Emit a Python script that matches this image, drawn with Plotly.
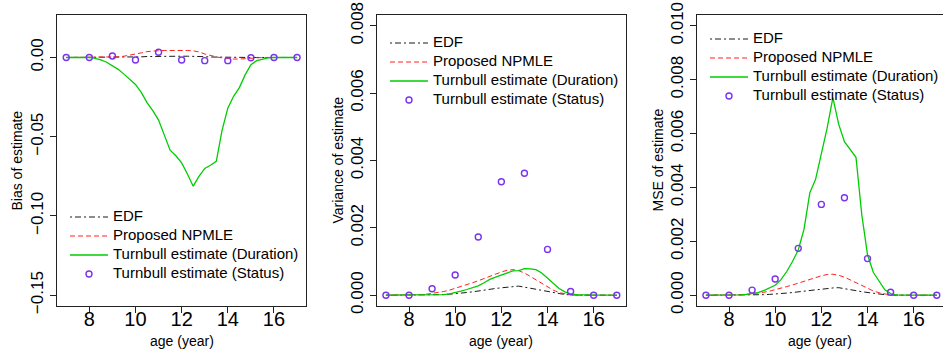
import plotly.graph_objects as go

# ---------------- data ----------------
age_grid = [7.00, 7.25, 7.50, 7.75, 8.00, 8.25, 8.50, 8.75, 9.00, 9.25, 9.50, 9.75,
            10.00, 10.25, 10.50, 10.75, 11.00, 11.25, 11.50, 11.75, 12.00, 12.25,
            12.50, 12.75, 13.00, 13.25, 13.50, 13.75, 14.00, 14.25, 14.50, 14.75,
            15.00, 15.25, 15.50, 15.75, 16.00, 16.25, 16.50, 16.75, 17.00]
age_int = [7, 8, 9, 10, 11, 12, 13, 14, 15, 16, 17]

# Bias
bias_edf = [0, 0, 0, 0, 0, 0, 0, 0, 0, 0.0001, 0.0001,
            0.0002, 0.0003, 0.0004, 0.0006, 0.0007, 0.0008, 0.0008, 0.0008, 0.0008, 0.0008,
            0.0008, 0.0008, 0.0007, 0.0005, 0.0003, 0.0002, 0.0001, 0, -0.0001, -0.0001, 0,
            0, 0, 0, 0, 0, 0, 0, 0, 0]
bias_npmle = [0, 0, 0, 0, 0, 0, 0, 0.0001,
              0.0002, 0.0004, 0.0008, 0.0014, 0.0020, 0.0029, 0.0037, 0.0041, 0.0043, 0.0044,
              0.0045, 0.0045, 0.0045, 0.0044, 0.0042, 0.0035, 0.0022, 0.0012, 0.0004, -0.0003,
              -0.0008, -0.0010, -0.0010, -0.0007, -0.0003, -0.0001, 0,
              0, 0, 0, 0, 0, 0]
bias_duration = [0, 0, 0, 0, 0, -0.0005, -0.0015, -0.003, -0.005, -0.0075, -0.0105, -0.0138,
                 -0.017, -0.022, -0.0285, -0.0335, -0.0395, -0.049, -0.0585, -0.062, -0.0665,
                 -0.0735, -0.0812, -0.075, -0.070, -0.068, -0.0655, -0.046, -0.032, -0.0245,
                 -0.019, -0.011, -0.0045, -0.002, -0.001, -0.0002, 0, 0, 0, 0, 0]
bias_status = [0, 0, 0.0009, -0.0016, 0.0033, -0.0016, -0.0020, -0.0020, -0.0002, 0, 0]

# Variance
var_edf = [0, 0, 0, 0, 0, 0, 0, 0,
           0.00001, 0.00001, 0.00002, 0.00003, 0.00004, 0.00006, 0.00008, 0.00010, 0.00013,
           0.00015, 0.00018, 0.00020, 0.00022, 0.00024, 0.00026, 0.00027, 0.00024, 0.00021,
           0.00017, 0.00013, 0.00010, 0.00007, 0.00004, 0.00002, 0.00001, 0, 0,
           0, 0, 0, 0, 0, 0]
var_npmle = [0, 0, 0, 0, 0,
             0.00001, 0.00002, 0.00003, 0.00005, 0.00008, 0.00011, 0.00015, 0.00020, 0.00025,
             0.00031, 0.00037, 0.00043, 0.00050, 0.00056, 0.00063, 0.00069, 0.00074, 0.00076,
             0.00073, 0.00066, 0.00056, 0.00046, 0.00035, 0.00024, 0.00015, 0.00008, 0.00004,
             0.00001, 0,
             0, 0, 0, 0, 0, 0, 0]
var_duration = [0, 0, 0, 0, 0, 0, 0, 0,
                0.00001, 0.00001, 0.00002, 0.00004, 0.00007, 0.00012, 0.00017, 0.00022, 0.00028,
                0.00037, 0.00047, 0.00054, 0.00060, 0.00067, 0.00072, 0.00073, 0.00079, 0.00078,
                0.00076, 0.00066, 0.00050, 0.00034, 0.00020, 0.00010, 0.00004, 0.00002, 0.00001,
                0, 0, 0, 0, 0, 0]
var_status = [0, 0, 0.00019, 0.00060, 0.00173, 0.00337, 0.00362, 0.00136, 0.00011, 0, 0]

# MSE
mse_edf = [0, 0, 0, 0, 0, 0, 0, 0,
           0.00001, 0.00001, 0.00002, 0.00003, 0.00004, 0.00006, 0.00008, 0.00010, 0.00013,
           0.00015, 0.00018, 0.00020, 0.00022, 0.00025, 0.00027, 0.00028, 0.00025, 0.00021,
           0.00017, 0.00013, 0.00010, 0.00007, 0.00004, 0.00002, 0.00001, 0, 0,
           0, 0, 0, 0, 0, 0]
mse_npmle = [0, 0, 0, 0, 0,
             0.00001, 0.00002, 0.00003, 0.00005, 0.00008, 0.00011, 0.00015, 0.00020, 0.00026,
             0.00032, 0.00038, 0.00045, 0.00052, 0.00059, 0.00066, 0.00072, 0.00077, 0.00078,
             0.00074, 0.00067, 0.00057, 0.00047, 0.00036, 0.00025, 0.00016, 0.00009, 0.00004,
             0.00001, 0,
             0, 0, 0, 0, 0, 0, 0]
mse_duration = [0, 0, 0, 0, 0, 0, 0.00001, 0.00003, 0.00006, 0.00010, 0.00017, 0.00026,
                0.00037, 0.00058, 0.00088, 0.00125, 0.00168, 0.00245, 0.00380, 0.00430, 0.00520,
                0.00620, 0.00733, 0.00635, 0.00570, 0.00540, 0.00512, 0.00300, 0.00150, 0.00085,
                0.00052, 0.00020, 0.00006, 0.00001, 0, 0, 0, 0, 0, 0, 0]
mse_status = [0, 0, 0.00019, 0.00060, 0.00174, 0.00337, 0.00362, 0.00136, 0.00011, 0, 0]

series_names = ["EDF", "Proposed NPMLE", "Turnbull estimate (Duration)", "Turnbull estimate (Status)"]
x_ticks = [8, 10, 12, 14, 16]
y1_ticks = [0.00, -0.05, -0.10, -0.15]
y1_text = ["0.00", "\u22120.05", "\u22120.10", "\u22120.15"]
y2_ticks = [0.000, 0.002, 0.004, 0.006, 0.008]
y2_text = ["0.000", "0.002", "0.004", "0.006", "0.008"]
y3_ticks = [0.000, 0.002, 0.004, 0.006, 0.008, 0.010]
y3_text = ["0.000", "0.002", "0.004", "0.006", "0.008", "0.010"]
y_titles = ["Bias of estimate", "Variance of estimate", "MSE of estimate"]
x_title = "age (year)"

# ---------------- styles ----------------
FONT = "Liberation Sans, Arial, Helvetica, sans-serif"
C_EDF = "#1a1a1a"
C_NPMLE = "#ff2020"
C_DUR = "#00cc00"
C_STAT = "#7a33f0"
DASH_EDF = "2px,3px,6px,3px"
DASH_NPMLE = "5px,3px"

W, H = 943, 356
panels = [
    dict(x0=57.0, x1=306.3, xr=[6.6, 17.4], yr=[-0.1568, 0.0268], mirror_y=True,
         data=(bias_edf, bias_npmle, bias_duration, bias_status),
         ytv=y1_ticks, ytt=y1_text, leg=(65, 202.5)),
    dict(x0=376.7, x1=626.0, xr=[6.6, 17.4], yr=[-0.00032, 0.00832], mirror_y=True,
         data=(var_edf, var_npmle, var_duration, var_status),
         ytv=y2_ticks, ytt=y2_text, leg=(385, 28.5)),
    dict(x0=696.7, x1=943.0, xr=[6.6, 17.27], yr=[-0.0004, 0.0104], mirror_y=False,
         data=(mse_edf, mse_npmle, mse_duration, mse_status),
         ytv=y3_ticks, ytt=y3_text, leg=(705, 24.5)),
]
plot_top, plot_bottom = 15.0, 306.0

fig = go.Figure()
layout = dict(width=W, height=H, margin=dict(l=0, r=0, t=0, b=0, autoexpand=False),
              paper_bgcolor="white", plot_bgcolor="white",
              font=dict(family=FONT, color="black"), showlegend=True,
              annotations=[])


def lab(s):
    return '<span style="font-size:15px">' + s + '</span>'


for i, p in enumerate(panels):
    n = "" if i == 0 else str(i + 1)
    xa, ya = "x" + n, "y" + n
    lg = "legend" + n
    edf, npm, dur, st = p["data"]
    fig.add_trace(go.Scatter(x=age_grid, y=edf, mode="lines", name=lab(series_names[0]),
                             line=dict(color=C_EDF, width=1, dash=DASH_EDF),
                             xaxis=xa, yaxis=ya, legend=lg))
    fig.add_trace(go.Scatter(x=age_grid, y=npm, mode="lines", name=lab(series_names[1]),
                             line=dict(color=C_NPMLE, width=1, dash=DASH_NPMLE),
                             xaxis=xa, yaxis=ya, legend=lg))
    fig.add_trace(go.Scatter(x=age_grid, y=dur, mode="lines", name=lab(series_names[2]),
                             line=dict(color=C_DUR, width=1.3),
                             xaxis=xa, yaxis=ya, legend=lg))
    fig.add_trace(go.Scatter(x=age_int, y=st, mode="markers", name=lab(series_names[3]),
                             marker=dict(symbol="circle-open", size=6, color=C_STAT,
                                         line=dict(width=1.4, color=C_STAT)),
                             xaxis=xa, yaxis=ya, legend=lg))

    common = dict(showgrid=False, zeroline=False, showline=True, linecolor="#222222",
                  linewidth=1, ticks="outside", ticklen=6, tickwidth=1, tickcolor="#222222",
                  automargin=False)
    layout["xaxis" + n] = dict(domain=[p["x0"] / W, min(p["x1"] / W, 1.0)], range=p["xr"],
                               anchor=ya, tickvals=x_ticks, ticktext=[str(v) for v in x_ticks],
                               tickfont=dict(size=20, family=FONT), mirror=True,
                               ticklabelstandoff=-11, **common)
    layout["yaxis" + n] = dict(domain=[(H - plot_bottom) / H, (H - plot_top) / H], range=p["yr"],
                               anchor=xa, tickvals=p["ytv"], ticktext=p["ytt"], tickangle=-90,
                               tickfont=dict(size=17, family=FONT), mirror=p["mirror_y"], **common)
    lx, ly = p["leg"]
    layout[lg] = dict(x=lx / W, y=(H - ly) / H, xanchor="left", yanchor="top",
                      bgcolor="rgba(0,0,0,0)", borderwidth=0, itemwidth=38,
                      font=dict(size=11, family=FONT, color="black"), tracegroupgap=0)
    # axis titles
    layout["annotations"].append(dict(text=x_title, xref="paper", yref="paper",
                                      x=(p["x0"] + min(p["x1"], 946)) / 2 / W, y=(H - 340.7) / H,
                                      xanchor="center", yanchor="middle", showarrow=False,
                                      font=dict(size=14, family=FONT)))
    ytx = [16, 337, 657][i]
    layout["annotations"].append(dict(text=y_titles[i], xref="paper", yref="paper",
                                      x=ytx / W, y=(H - (plot_top + plot_bottom) / 2) / H,
                                      xanchor="center", yanchor="middle", textangle=-90,
                                      showarrow=False, font=dict(size=14, family=FONT)))

fig.update_layout(**layout)
fig.write_html("out.html")
